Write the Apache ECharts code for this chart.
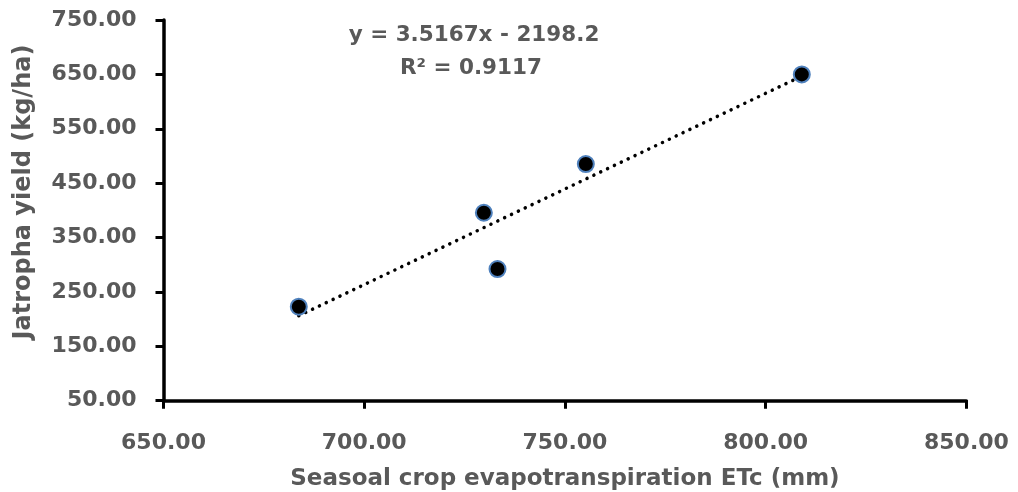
<!DOCTYPE html>
<html>
<head>
<meta charset="utf-8">
<script src="https://cdn.jsdelivr.net/npm/echarts@6/dist/echarts.min.js"></script>
<style>
html,body{margin:0;padding:0;background:#fff;}
#chart{width:1018px;height:492px;}
</style>
</head>
<body>
<div id="chart"></div>
<script>
// Data
var etcValues = [683.7, 729.8, 733.2, 755.2, 809.0];
var yieldValues = [222.8, 395.6, 292.1, 485.2, 650.0];
var trendSlope = 3.5167;
var trendIntercept = -2198.2;
var rSquared = 0.9117;
var xTicks = [650, 700, 750, 800, 850];
var yTicks = [50, 150, 250, 350, 450, 550, 650, 750];

var FONT = 'DejaVu Sans';
var GREY = '#595959';

var points = etcValues.map(function (x, i) { return [x, yieldValues[i]]; });
var xMin = Math.min.apply(null, etcValues);
var xMax = Math.max.apply(null, etcValues);
var trend = [xMin, xMax].map(function (x) { return [x, trendSlope * x + trendIntercept]; });

var chart = echarts.init(document.getElementById('chart'));
chart.setOption({
  backgroundColor: '#ffffff',
  animation: false,
  grid: { left: 163.5, right: 51.6, top: 20, bottom: 91.3, containLabel: false, outerBoundsMode: 'none' },
  xAxis: {
    type: 'value',
    min: xTicks[0], max: xTicks[xTicks.length - 1], interval: 50,
    name: 'Seasoal crop evapotranspiration ETc (mm)',
    nameLocation: 'middle', nameGap: 67,
    nameTextStyle: { fontFamily: FONT, fontWeight: 'bold', fontSize: 23, color: GREY },
    axisLine: { show: true, lineStyle: { color: '#000', width: 3.5 } },
    axisTick: { show: true, length: 8, lineStyle: { color: '#000', width: 3 } },
    axisLabel: { margin: 32, fontFamily: FONT, fontWeight: 'bold', fontSize: 22, color: GREY,
      formatter: function (v) { return v.toFixed(2); } },
    splitLine: { show: false }
  },
  yAxis: {
    type: 'value',
    min: yTicks[0], max: yTicks[yTicks.length - 1], interval: 100,
    axisLine: { show: true, lineStyle: { color: '#000', width: 3.5 } },
    axisTick: { show: true, length: 8, lineStyle: { color: '#000', width: 3 } },
    axisLabel: { margin: 27, fontFamily: FONT, fontWeight: 'bold', fontSize: 22, color: GREY,
      formatter: function (v) { return v.toFixed(2); } },
    splitLine: { show: false }
  },
  graphic: [
    {
      type: 'text', x: 24, y: 192, rotation: Math.PI / 2,
      style: { text: 'Jatropha yield (kg/ha)', fontFamily: FONT, fontWeight: 'bold', fontSize: 24,
        fill: GREY, align: 'center', verticalAlign: 'middle' }
    },
    {
      type: 'text', x: 474, y: 35,
      style: { text: 'y = ' + trendSlope + 'x - ' + Math.abs(trendIntercept), fontFamily: FONT, fontWeight: 'bold', fontSize: 21.5,
        fill: GREY, align: 'center', verticalAlign: 'middle' }
    },
    {
      type: 'text', x: 471, y: 68,
      style: { text: 'R² = ' + rSquared, fontFamily: FONT, fontWeight: 'bold', fontSize: 21.5,
        fill: GREY, align: 'center', verticalAlign: 'middle' }
    }
  ],
  series: [
    {
      type: 'line', data: trend, symbol: 'none', silent: true, z: 1,
      lineStyle: { color: '#000', width: 3.5, type: [0.1, 7.5], cap: 'round' }
    },
    {
      type: 'scatter', data: points, symbol: 'circle', symbolSize: 16, z: 2,
      itemStyle: { color: '#000', borderColor: '#4F81BD', borderWidth: 2, opacity: 1 }
    }
  ]
});
</script>
</body>
</html>
